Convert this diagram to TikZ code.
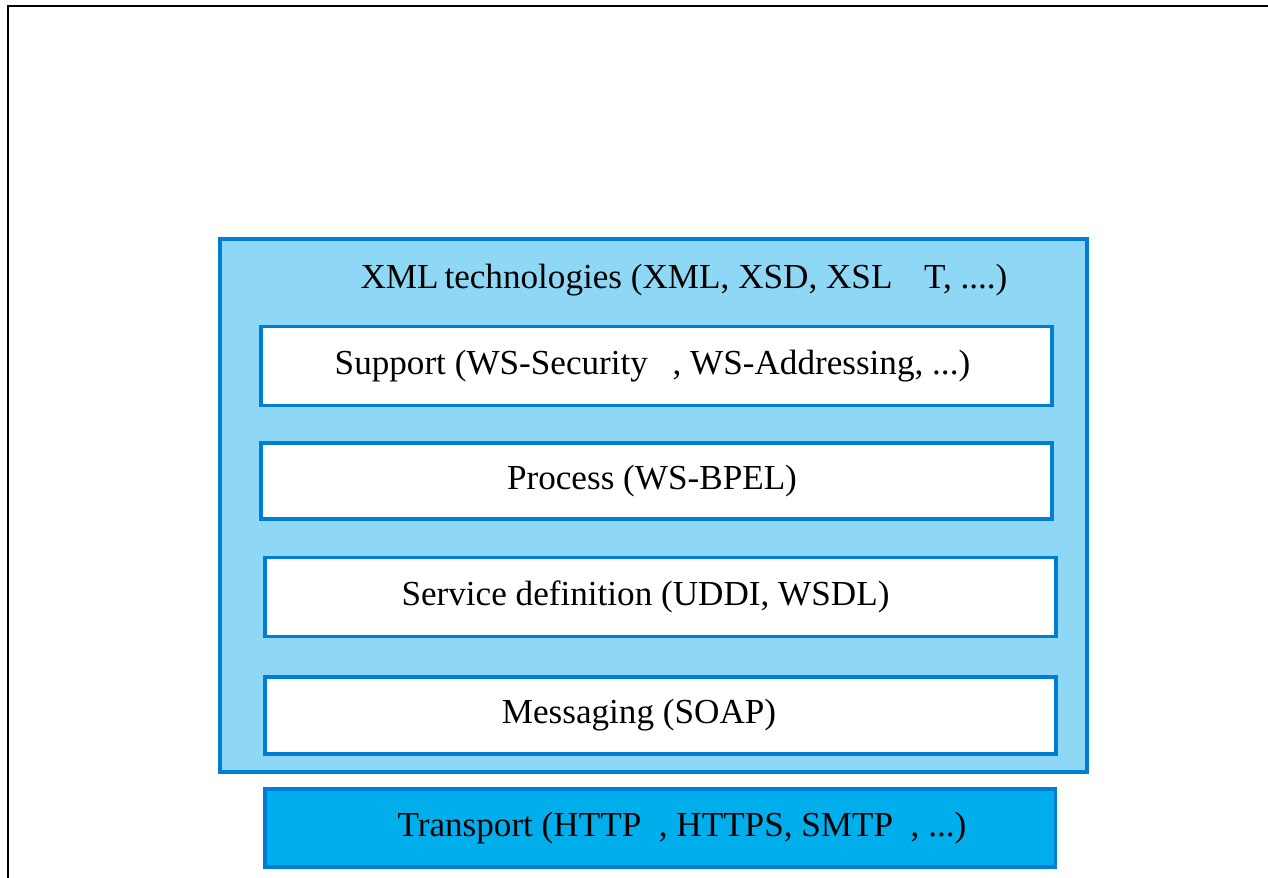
\documentclass[tikz,border=0pt]{standalone}
\usepackage{fontspec}
\setmainfont{Liberation Serif}
\usepackage{tikz}
\usetikzlibrary{positioning}

\definecolor{layerline}{RGB}{0,125,212}
\definecolor{xmlfill}{RGB}{143,216,245}
\definecolor{transfill}{RGB}{0,174,236}

\begin{document}
\begin{tikzpicture}[
  x=0.02cm, y=-0.02cm,
  layer/.style={rectangle, draw=layerline, line width=2.2pt, fill=white,
    minimum width=15.82cm, minimum height=1.58cm, inner sep=0pt},
  caption/.style={font=\fontsize{20}{24}\selectfont, inner sep=0pt},
  frame/.style={line width=1.7pt}
]
  \useasboundingbox (0,0) rectangle (1268,878);
  \draw[frame] (8,878) -- (8,6) -- (1268,6);

  % faint title
  \node[white, font=\fontsize{36}{40}\selectfont\sffamily\bfseries] (title) at (640,98) {Web service standards};

  \node[rectangle, draw=layerline, line width=2.2pt, fill=xmlfill,
    minimum width=17.34cm, minimum height=10.66cm, inner sep=0pt] (xml) at (653.5,505.5) {};
  \node[caption] (xmltext) at (684,280)
    {XML\,technologies (XML, XSD, XSL\hspace{0.9em}T, ....)};

  % layer boxes
  \node[layer] (support) at (656.5,366) {};
  \node[layer, minimum height=1.52cm] (process) at (656.5,481) {};
  \node[layer] (service) at (660.5,597) {};
  \node[layer, minimum height=1.54cm] (messaging) at (660.5,715.5) {};
  \node[layer, fill=transfill, minimum height=1.56cm] (transport) at (660,828) {};

  % layer texts
  \node[caption] (supporttext) at ([xshift=-0.08cm]support.center)
    {Support (WS-Security\hspace{0.7em}, WS-Addressing, ...)};
  \node[caption] (processtext) at ([xshift=-0.09cm]process.center) {Process (WS-BPEL)};
  \node[caption] (servicetext) at ([xshift=-0.3cm]service.center) {Service definition (UDDI, WSDL)};
  \node[caption] (messagingtext) at ([xshift=-0.43cm]messaging.center) {Messaging (SOAP)};
  \node[caption] (transporttext) at ([xshift=0.44cm]transport.center)
    {Transport (HTTP\hspace{0.5em}, HTTPS, SMTP\hspace{0.5em}, ...)};
\end{tikzpicture}
\end{document}
